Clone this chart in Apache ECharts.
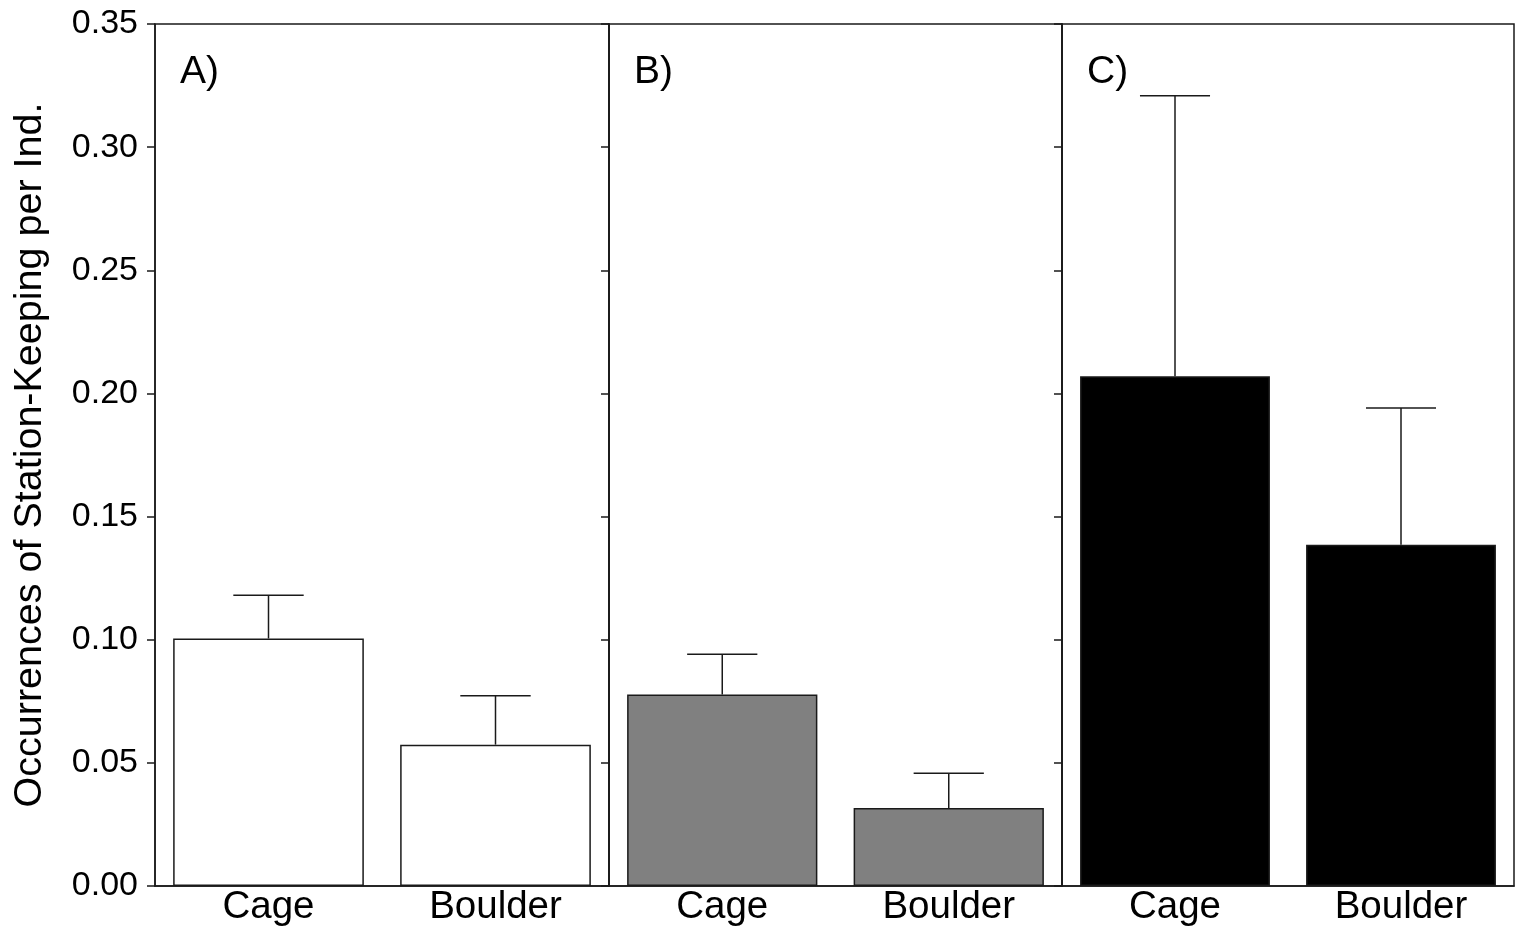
<!DOCTYPE html>
<html lang="en">
<head>
    <meta charset="UTF-8">
    <title>Station-Keeping per Individual</title>
    <script src="https://cdn.jsdelivr.net/npm/echarts@6.0.0/dist/echarts.min.js"></script>
    <style>
        * { margin: 0; padding: 0; box-sizing: border-box; }
        body { background: #fff; }
        #chart { width: 1535px; height: 946px; }
    </style>
</head>
<body>
    <div id="chart"></div>

    <script>
        // data
        const categories = ['Cage', 'Boulder'];
        const panelLabels = ['A)', 'B)', 'C)'];
        const meansA = [0.1005, 0.0574];
        const meansB = [0.0778, 0.0317];
        const meansC = [0.2070, 0.1386];
        const upperA = [0.1181, 0.0772];
        const upperB = [0.0941, 0.0458];
        const upperC = [0.3209, 0.1941];
        const yTicks = [0, 0.05, 0.10, 0.15, 0.20, 0.25, 0.30, 0.35];

        const means = [meansA, meansB, meansC];
        const uppers = [upperA, upperB, upperC];
        const fills = ['#ffffff', '#808080', '#000000'];
        const lineCol = '#1a1a1a';
        const font = 'Liberation Sans, Arial, sans-serif';

        // panel boxes (px)
        const panelLeft = [155, 609, 1062];
        const panelWidth = [454, 453, 452];

        const chart = echarts.init(document.getElementById('chart'));

        const grids = [], xAxes = [], yAxes = [], series = [], graphics = [];

        for (let i = 0; i < 3; i++) {
            grids.push({
                left: panelLeft[i], width: panelWidth[i], top: 24, bottom: 60,
                show: true, borderColor: lineCol, borderWidth: 1.5, backgroundColor: 'transparent'
            });
            xAxes.push({
                type: 'category', gridIndex: i, data: categories,
                axisLine: { lineStyle: { color: lineCol, width: 1.5 } },
                axisTick: { alignWithLabel: true, length: 8, lineStyle: { color: lineCol, width: 1.5 } },
                axisLabel: { color: '#000', fontSize: 38.5, fontFamily: font, margin: 2 }
            });
            yAxes.push({
                type: 'value', gridIndex: i, min: yTicks[0], max: yTicks[yTicks.length - 1], interval: 0.05,
                splitLine: { show: false },
                axisLine: { show: true, lineStyle: { color: lineCol, width: 1.5 } },
                axisTick: { show: true, length: 8, lineStyle: { color: lineCol, width: 1.5 } },
                axisLabel: {
                    show: i === 0, color: '#000', fontSize: 34, fontFamily: font, margin: 17,
                    formatter: v => v.toFixed(2)
                },
                name: i === 0 ? 'Occurrences of Station-Keeping per Ind.' : '',
                nameLocation: 'middle', nameGap: 105,
                nameTextStyle: { color: '#000', fontSize: 39.5, fontFamily: font }
            });

            series.push({
                type: 'bar', xAxisIndex: i, yAxisIndex: i,
                data: means[i],
                barCategoryGap: '16%',
                itemStyle: { color: fills[i], borderColor: lineCol, borderWidth: 1.5 },
                silent: true
            });

            // upper error bars
            series.push({
                type: 'custom', xAxisIndex: i, yAxisIndex: i,
                data: means[i].map((m, k) => [k, m, uppers[i][k]]),
                renderItem: function (params, api) {
                    const base = api.coord([api.value(0), api.value(1)]);
                    const top = api.coord([api.value(0), api.value(2)]);
                    const half = api.size([1, 0])[0] * 0.155;
                    const style = { stroke: lineCol, lineWidth: 1.5 };
                    return {
                        type: 'group',
                        children: [
                            { type: 'line', shape: { x1: base[0], y1: base[1], x2: top[0], y2: top[1] }, style: style },
                            { type: 'line', shape: { x1: top[0] - half, y1: top[1], x2: top[0] + half, y2: top[1] }, style: style }
                        ]
                    };
                },
                z: 3, silent: true
            });

            graphics.push({
                type: 'text', left: panelLeft[i] + 25, top: 53,
                style: { text: panelLabels[i], fill: '#000', fontSize: 39, fontFamily: font }
            });
        }

        chart.setOption({
            animation: false,
            grid: grids,
            xAxis: xAxes,
            yAxis: yAxes,
            series: series,
            graphic: graphics
        });
    </script>
</body>
</html>
